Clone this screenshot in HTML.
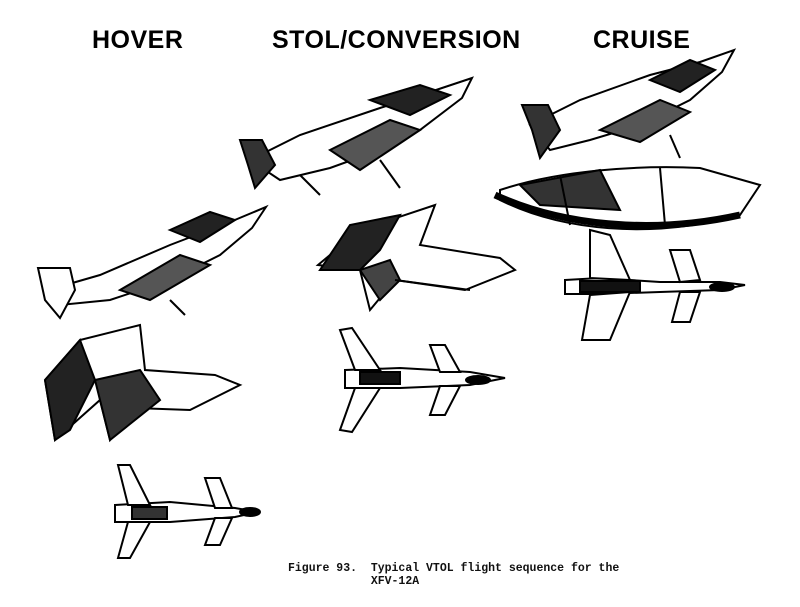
<!DOCTYPE html>
<html><head><style>
body{margin:0;background:#fff;width:800px;height:607px;overflow:hidden;position:relative;font-family:"Liberation Sans",sans-serif}
.h{position:absolute;top:26px;font-size:25px;font-weight:bold;color:#000;letter-spacing:0.5px}
.cap{position:absolute;left:288px;top:562px;font-family:"Liberation Mono",monospace;font-size:11.5px;font-weight:bold;line-height:13px;white-space:pre;color:#111}
svg{position:absolute;left:0;top:0}
</style></head><body>
<div class="h" style="left:92px">HOVER</div>
<div class="h" style="left:272px">STOL/CONVERSION</div>
<div class="h" style="left:593px">CRUISE</div>
<svg width="800" height="607" viewBox="0 0 800 607" fill="none" stroke="#000" stroke-width="2">
<!-- STOL side view -->
<g>
<polygon points="250,160 300,135 380,108 430,92 472,78 462,98 420,130 380,150 330,168 280,180" fill="#fff"/>
<polygon points="240,140 262,140 275,165 255,188 248,165" fill="#333"/>
<polygon points="370,100 420,85 450,95 410,115" fill="#222"/>
<polygon points="330,150 390,120 420,130 360,170" fill="#555"/>
<line x1="300" y1="175" x2="320" y2="195"/><line x1="380" y1="160" x2="400" y2="188"/>
</g>
<!-- Cruise side view -->
<g>
<polygon points="530,125 580,100 650,75 700,62 734,50 722,72 690,100 640,125 590,140 550,150" fill="#fff"/>
<polygon points="522,105 548,105 560,130 540,158 532,130" fill="#333"/>
<polygon points="650,80 690,60 715,70 680,92" fill="#222"/>
<polygon points="600,130 660,100 690,112 640,142" fill="#555"/>
<line x1="670" y1="135" x2="680" y2="158"/>
</g>
<!-- Cruise wing -->
<g>
<path d="M500,190 C560,170 640,165 700,168 L760,185 L740,215 C650,240 560,230 500,200 Z" fill="#fff"/>
<path d="M495,195 C560,225 650,235 740,215" stroke="#000" stroke-width="7"/>
<path d="M520,185 L600,170 L620,210 L540,205 Z" fill="#333"/>
<line x1="560" y1="175" x2="570" y2="225"/><line x1="660" y1="168" x2="665" y2="225"/>
</g>
<!-- Cruise top view -->
<g>
<polygon points="565,280 600,278 660,282 720,282 745,285 720,290 660,292 600,294 565,294" fill="#fff"/>
<polygon points="590,230 610,235 630,280 590,278" fill="#fff"/>
<polygon points="590,295 630,292 610,340 582,340" fill="#fff"/>
<polygon points="670,250 690,250 700,280 680,282" fill="#fff"/>
<polygon points="680,292 700,292 690,322 672,322" fill="#fff"/>
<rect x="580" y="281" width="60" height="11" fill="#111"/>
<ellipse cx="722" cy="287" rx="12" ry="4" fill="#000"/>
</g>
<!-- STOL wing -->
<g>
<polygon points="318,265 360,230 435,205 420,245 500,258 515,270 465,290 395,280 370,310 360,270" fill="#fff"/>
<polygon points="320,270 350,225 400,215 380,250 360,270" fill="#222"/>
<polygon points="360,270 380,300 400,280 390,260" fill="#444"/>
<line x1="395" y1="280" x2="470" y2="290"/>
</g>
<!-- STOL top view -->
<g>
<polygon points="345,370 400,368 470,372 505,378 470,385 400,388 345,388" fill="#fff"/>
<polygon points="340,330 352,328 380,370 355,370" fill="#fff"/>
<polygon points="355,388 380,388 352,432 340,430" fill="#fff"/>
<polygon points="430,345 445,345 460,372 440,372" fill="#fff"/>
<polygon points="440,386 460,386 445,415 430,415" fill="#fff"/>
<rect x="360" y="372" width="40" height="12" fill="#111"/>
<ellipse cx="478" cy="380" rx="12" ry="4" fill="#000"/>
</g>
<!-- Hover side view -->
<g>
<polygon points="48,290 100,275 170,245 230,222 266,207 252,228 220,255 170,280 110,300 60,305" fill="#fff"/>
<polygon points="38,268 70,268 75,290 60,318 45,300" fill="#fff"/>
<polygon points="170,230 210,212 235,220 200,242" fill="#222"/>
<polygon points="120,290 180,255 210,265 150,300" fill="#555"/>
<line x1="170" y1="300" x2="185" y2="315"/>
</g>
<!-- Hover wing -->
<g>
<polygon points="45,380 80,340 140,325 145,370 215,375 240,385 190,410 135,408 110,440 100,400 55,440" fill="#fff"/>
<polygon points="45,380 80,340 95,380 70,430 55,440" fill="#222"/>
<polygon points="95,380 140,370 160,400 110,440 100,400" fill="#333"/>
</g>
<!-- Hover top view -->
<g>
<polygon points="115,505 170,502 235,508 258,512 235,517 170,522 115,522" fill="#fff"/>
<polygon points="118,465 130,465 150,505 128,505" fill="#fff"/>
<polygon points="128,522 150,522 130,558 118,558" fill="#fff"/>
<polygon points="205,478 220,478 232,508 215,508" fill="#fff"/>
<polygon points="215,518 232,518 220,545 205,545" fill="#fff"/>
<rect x="132" y="507" width="35" height="12" fill="#333"/>
<ellipse cx="250" cy="512" rx="10" ry="4" fill="#000"/>
</g>
</svg>
<div class="cap">Figure 93.  Typical VTOL flight sequence for the
            XFV-12A</div>
</body></html>
